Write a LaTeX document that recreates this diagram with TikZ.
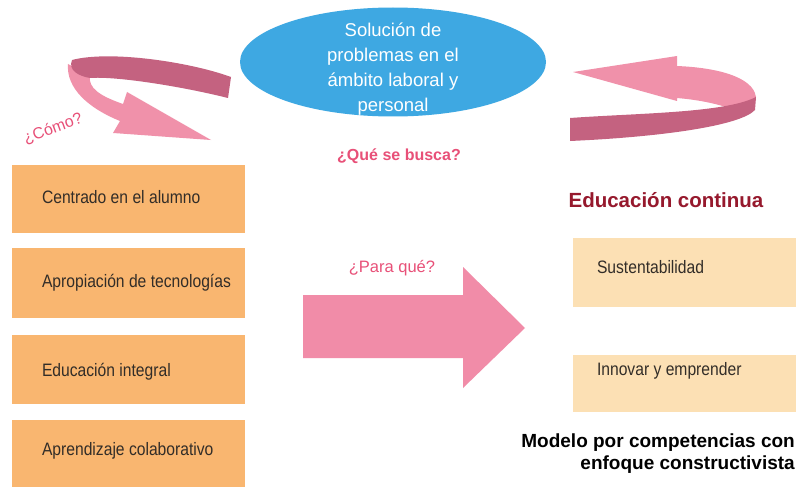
\documentclass[tikz,border=0pt]{standalone}
\usepackage{fontspec}
\setmainfont{Liberation Sans}
\newfontfamily\narrowfont[FakeStretch=0.87]{Liberation Sans}
\usetikzlibrary{shapes.geometric}
\definecolor{ellblue}{RGB}{62,168,226}
\definecolor{orangebox}{RGB}{249,182,112}
\definecolor{peachbox}{RGB}{252,224,180}
\definecolor{pinkarrow}{RGB}{241,140,168}
\definecolor{darkrose}{RGB}{196,98,128}
\definecolor{lightrib}{RGB}{240,145,170}
\definecolor{pinktext}{RGB}{232,80,120}
\definecolor{darkred}{RGB}{150,25,45}
\definecolor{boxtext}{RGB}{50,45,40}
\tikzset{
  lbox/.style={fill=orangebox, draw=none, minimum width=233pt, inner sep=0pt},
  rbox/.style={fill=peachbox, draw=none, minimum width=223pt, inner sep=0pt},
  btext/.style={anchor=west, inner sep=0pt, text=boxtext, font=\narrowfont\fontsize{18}{21}\selectfont},
  qtext/.style={text=pinktext, inner sep=0pt},
}
\begin{document}
\begin{tikzpicture}[x=1pt,y=-1pt]
\useasboundingbox (0,0) rectangle (796,487);
\fill[white] (0,0) rectangle (796,487);

% central ellipse
\node[ellipse, fill=ellblue, minimum width=306pt, minimum height=109pt, inner sep=0pt] (goal) at (393,62) {};
\node[text=white, align=center, inner sep=0pt, font=\fontsize{18.5}{25}\selectfont] (goaltext) at ([yshift=-7pt]goal.center)
  {Solución de\\problemas en el\\ámbito laboral y\\personal};

\node[qtext, font=\bfseries\fontsize{16}{19}\selectfont] (busca) at (399,156) {¿Qué se busca?};

% left curved arrow (ribbon)
\fill[lightrib] (68,64) .. controls (66,88) and (88,108) .. (120,121)
  -- (113,133) -- (211,140) -- (127,92) -- (123,104)
  .. controls (100,96) and (88,88) .. (90,76) -- cycle;
\fill[darkrose] (72,60) .. controls (110,50) and (190,62) .. (231,77)
  -- (228,98) .. controls (180,86) and (115,76) .. (90,78)
  .. controls (78,76) and (68,70) .. (72,60) -- cycle;
\node[qtext, rotate=20, font=\fontsize{16}{19}\selectfont] (como) at (53,129) {¿Cómo?};

% right curved arrow (ribbon)
\fill[lightrib] (573,72) -- (677,56) -- (677,66)
  .. controls (725,68) and (757,80) .. (756,100) -- (740,112)
  .. controls (720,104) and (700,100) .. (677,98) -- (677,101) -- cycle;
\fill[darkrose] (570,118) .. controls (640,113) and (725,113) .. (756,97)
  -- (755,110) .. controls (740,126) and (660,137) .. (570,141) -- cycle;

\node[inner sep=0pt, text=darkred, font=\bfseries\fontsize{20.5}{24}\selectfont] (cont) at (666,200) {Educación continua};

% left boxes
\node[lbox, minimum height=68pt] (b1) at (128.5,199) {};
\node[lbox, minimum height=70pt] (b2) at (128.5,283) {};
\node[lbox, minimum height=69pt] (b3) at (128.5,369.5) {};
\node[lbox, minimum height=67pt] (b4) at (128.5,453.5) {};
\node[btext] (t1) at ([xshift=30pt,yshift=2pt]b1.west) {Centrado en el alumno};
\node[btext] (t2) at ([xshift=30pt]b2.west) {Apropiación de tecnologías};
\node[btext] (t3) at ([xshift=30pt,yshift=-2pt]b3.west) {Educación integral};
\node[btext] (t4) at ([xshift=30pt,yshift=3pt]b4.west) {Aprendizaje colaborativo};

% big arrow
\node[qtext, font=\fontsize{16.5}{19}\selectfont] (para) at (392,268) {¿Para qué?};
\fill[pinkarrow] (303,295) -- (463,295) -- (463,267) -- (525,328) -- (463,388)
  -- (463,358) -- (303,358) -- cycle;

% right boxes
\node[rbox, minimum height=69pt] (r1) at (684.5,272.5) {};
\node[rbox, minimum height=57pt] (r2) at (684.5,383.5) {};
\node[btext] (s1) at ([xshift=24pt,yshift=5pt]r1.west) {Sustentabilidad};
\node[btext] (s2) at ([xshift=24pt,yshift=13pt]r2.west) {Innovar y emprender};

\node[anchor=east, align=right, inner sep=0pt, text=black,
      font=\bfseries\fontsize{19}{22}\selectfont] (modelo) at (795,454)
  {Modelo por competencias con\\enfoque constructivista};
\end{tikzpicture}
\end{document}
